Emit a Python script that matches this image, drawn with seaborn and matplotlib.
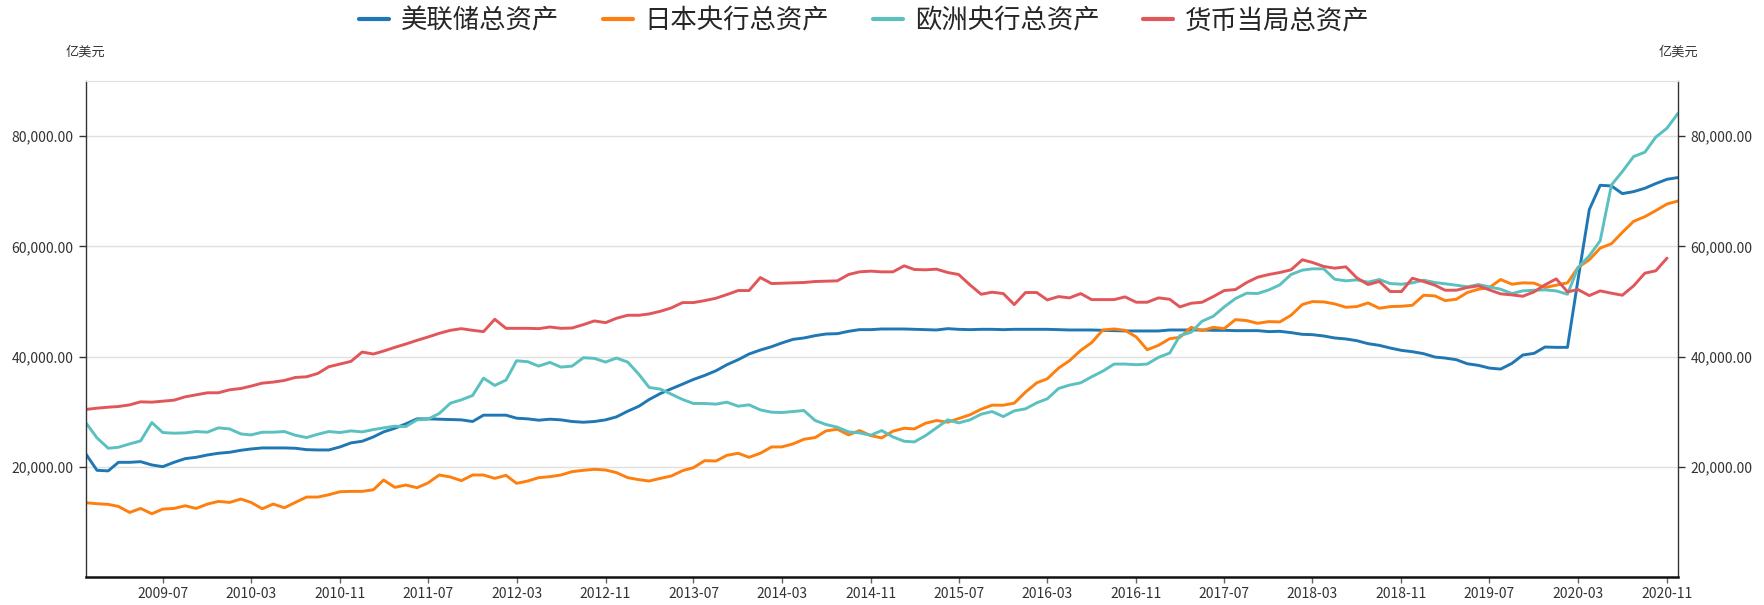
import numpy as np
import pandas as pd
import matplotlib
matplotlib.use("Agg")
import matplotlib.pyplot as plt
import matplotlib.ticker as mticker
from matplotlib.font_manager import FontProperties
import seaborn as sns

# monthly, 2008-12 .. 2020-12 (亿美元)
months = pd.date_range("2008-12-01", periods=145, freq="MS")

fed = [22400, 19400, 19300, 20850, 20850, 20970, 20370, 20060, 20850, 21520,
       21760, 22180, 22490, 22670, 23030, 23270, 23460, 23460, 23460, 23400,
       23150, 23090, 23090, 23640, 24370, 24670, 25460, 26370, 27030, 27820,
       28730, 28730, 28670, 28610, 28550, 28250, 29400, 29400,
       29400, 28850, 28730, 28490, 28670, 28550, 28250, 28120, 28250, 28550,
       29090, 30120, 31030, 32240, 33330, 34180, 35030, 35880, 36610, 37460,
       38550, 39460, 40490, 41210, 41820, 42490, 43150, 43400, 43820, 44120,
       44180, 44610, 44910, 44910, 45030, 45030,
       45030, 44970, 44910, 44850, 45090, 44970, 44910, 44970, 44970, 44910,
       44970, 44970, 44970, 44970, 44910, 44850, 44850, 44850, 44790, 44730,
       44670, 44670, 44670, 44670, 44850, 44850, 44850, 44850, 44790, 44790,
       44730, 44730, 44730, 44550,
       44610, 44370, 44060, 44000, 43760, 43400, 43220, 42910, 42370, 42060,
       41580, 41150, 40910, 40550, 39940, 39760, 39460, 38730, 38430, 37940,
       37760, 38790, 40310, 40610, 41760, 41700, 41700, 54000, 66670, 71090,
       70970, 69580, 69940, 70550, 71400, 72180, 72490]

boj = [13520, 13340, 13220, 12850, 11760, 12490, 11520, 12370, 12490, 12970,
       12490, 13280, 13760, 13580, 14190, 13580, 12430, 13280, 12610, 13580,
       14550, 14550, 14970, 15520, 15580, 15580, 15880, 17640, 16310, 16730,
       16250, 17100, 18550, 18190, 17520, 18550, 18550, 17940,
       18490, 17040, 17460, 18070, 18250, 18550, 19160, 19400, 19580, 19460,
       18980, 18070, 17700, 17460, 17940, 18370, 19340, 19880, 21150, 21090,
       22120, 22490, 21760, 22490, 23640, 23640, 24190, 25030, 25340, 26550,
       26850, 25820, 26610, 25700, 25280, 26490,
       27030, 26910, 27940, 28430, 28120, 28790, 29460, 30490, 31210, 31210,
       31580, 33580, 35270, 36000, 37940, 39270, 41150, 42550, 44850, 45030,
       44790, 43580, 41270, 42060, 43270, 43520, 45330, 44730, 45330, 45090,
       46730, 46550, 46060, 46370,
       46310, 47520, 49460, 50000, 49940, 49580, 48970, 49090, 49760, 48790,
       49090, 49150, 49330, 51150, 51030, 50180, 50420, 51640, 52240, 52550,
       54000, 53150, 53400, 53340, 52550, 52970, 53400, 56180, 57580, 59700,
       60490, 62550, 64550, 65400, 66490, 67700, 68240]

ecb = [28060, 25280, 23400, 23580, 24190, 24730, 28060, 26250, 26130, 26190,
       26430, 26310, 27100, 26910, 26000, 25820, 26310, 26310, 26430, 25760,
       25340, 25940, 26430, 26250, 26550, 26370, 26790, 27100, 27400, 27340,
       28550, 28670, 29700, 31580, 32180, 32970, 36120, 34790,
       35760, 39270, 39090, 38300, 38970, 38120, 38300, 39820, 39700, 39030,
       39760, 39030, 36790, 34430, 34120, 33210, 32240, 31520, 31520, 31400,
       31760, 31030, 31270, 30360, 29940, 29880, 30060, 30240, 28430, 27700,
       27220, 26370, 26190, 25760, 26610, 25460,
       24670, 24550, 25700, 27100, 28550, 28000, 28550, 29580, 30060, 29150,
       30180, 30550, 31640, 32370, 34240, 34850, 35270, 36360, 37390, 38670,
       38670, 38550, 38670, 39880, 40670, 43820, 44430, 46430, 47340, 49030,
       50550, 51520, 51460, 52120,
       53030, 54910, 55700, 55940, 55940, 54060, 53760, 53940, 53520, 54000,
       53270, 53150, 53400, 53880, 53460, 53220, 52970, 52670, 53090, 52670,
       52240, 51460, 51940, 52060, 52120, 51940, 51330, 56180, 58300, 61030,
       71150, 73580, 76300, 77090, 79820, 81450, 84120]

pboc = [30430, 30670, 30850, 30970, 31270, 31820, 31760, 31940, 32120, 32730,
        33090, 33460, 33460, 34000, 34240, 34670, 35210, 35400, 35700, 36240,
        36360, 36970, 38180, 38670, 39150, 40850, 40490, 41030, 41700, 42300,
        42970, 43570, 44240, 44790, 45090, 44790, 44550, 46790,
        45150, 45150, 45150, 45090, 45390, 45150, 45210, 45820, 46490, 46180,
        46970, 47520, 47520, 47760, 48240, 48850, 49820, 49820, 50180, 50610,
        51270, 52000, 52000, 54360, 53270, 53330, 53390, 53460, 53640, 53700,
        53760, 54910, 55390, 55520, 55390, 55390,
        56480, 55820, 55760, 55880, 55270, 54910, 53030, 51330, 51700, 51450,
        49450, 51640, 51640, 50300, 50910, 50670, 51450, 50360, 50360, 50360,
        50850, 49880, 49880, 50670, 50420, 49030, 49700, 49880, 50910, 52000,
        52180, 53460, 54420, 54910,
        55270, 55760, 57580, 57090, 56370, 56060, 56300, 54310, 53090, 53640,
        51820, 51820, 54240, 53640, 52970, 52060, 52060, 52550, 52850, 52120,
        51400, 51210, 50970, 51760, 53030, 54120, 51760, 52180, 51090, 51940,
        51520, 51150, 52850, 55150, 55580, 57880, np.nan]

series_names = ["美联储总资产", "日本央行总资产", "欧洲央行总资产", "货币当局总资产"]
colors = ["#1f77b4", "#ff7f0e", "#5bc0c0", "#e15759"]

df = pd.DataFrame({
    "月份": np.tile(months, 4),
    "总资产": np.concatenate([fed, boj, ecb, pboc]),
    "系列": np.repeat(series_names, len(months)),
})

sns.set_style("white")
plt.rcParams["font.family"] = ["Noto Sans CJK SC", "DejaVu Sans"]

fig = plt.figure(figsize=(17.64, 6.05), dpi=100)
ax = fig.add_axes([0.0486, 0.0458, 0.9026, 0.8203])

sns.lineplot(data=df, x="月份", y="总资产", hue="系列", palette=colors,
             linewidth=2.1, ax=ax)

ax.set_xlim(months[0], months[-1])
ax.set_ylim(0, 90000)
ax.set_yticks([20000, 40000, 60000, 80000])
ax.yaxis.set_major_formatter(mticker.FuncFormatter(lambda v, p: f"{v:,.2f}"))
ticks = months[7::8]
ax.set_xticks(ticks)
ax.set_xticklabels([d.strftime("%Y-%m") for d in ticks])
ax.set_xlabel("")
ax.set_ylabel("")

ax.grid(axis="y", color="#e0e0e0", linewidth=1)
ax.grid(axis="x", visible=False)
for side in ["left", "right"]:
    ax.spines[side].set_visible(True)
    ax.spines[side].set_color("#333333")
    ax.spines[side].set_linewidth(1)
ax.spines["top"].set_visible(True)
ax.spines["top"].set_color("#e0e0e0")
ax.spines["bottom"].set_color("#111111")
ax.spines["bottom"].set_linewidth(1.8)

ax.tick_params(axis="y", left=True, right=True, labelleft=True, labelright=True,
               length=5, width=1, color="#333333", labelsize=10,
               labelcolor="#333333", pad=4)
ax.tick_params(axis="x", bottom=True, length=4, width=1, color="#666666",
               labelsize=10, labelcolor="#333333", pad=3)

fig.text(85 / 1764, 1 - 52 / 605, "亿美元", ha="center", va="center",
         fontsize=9.5, color="#333333")
fig.text(1678 / 1764, 1 - 52 / 605, "亿美元", ha="center", va="center",
         fontsize=9.5, color="#333333")

handles, labels = ax.get_legend_handles_labels()
ax.legend_.remove()
for h in handles:
    h.set_linewidth(3)
fig.legend(handles, labels, loc="center", bbox_to_anchor=(0.49, 0.965),
           ncol=4, frameon=False,
           prop=FontProperties(family=["Noto Sans CJK SC", "DejaVu Sans"],
                               weight="light", size=19),
           handlelength=1.14, handletextpad=0.45, columnspacing=1.65)

fig.savefig("out.png", dpi=100)
